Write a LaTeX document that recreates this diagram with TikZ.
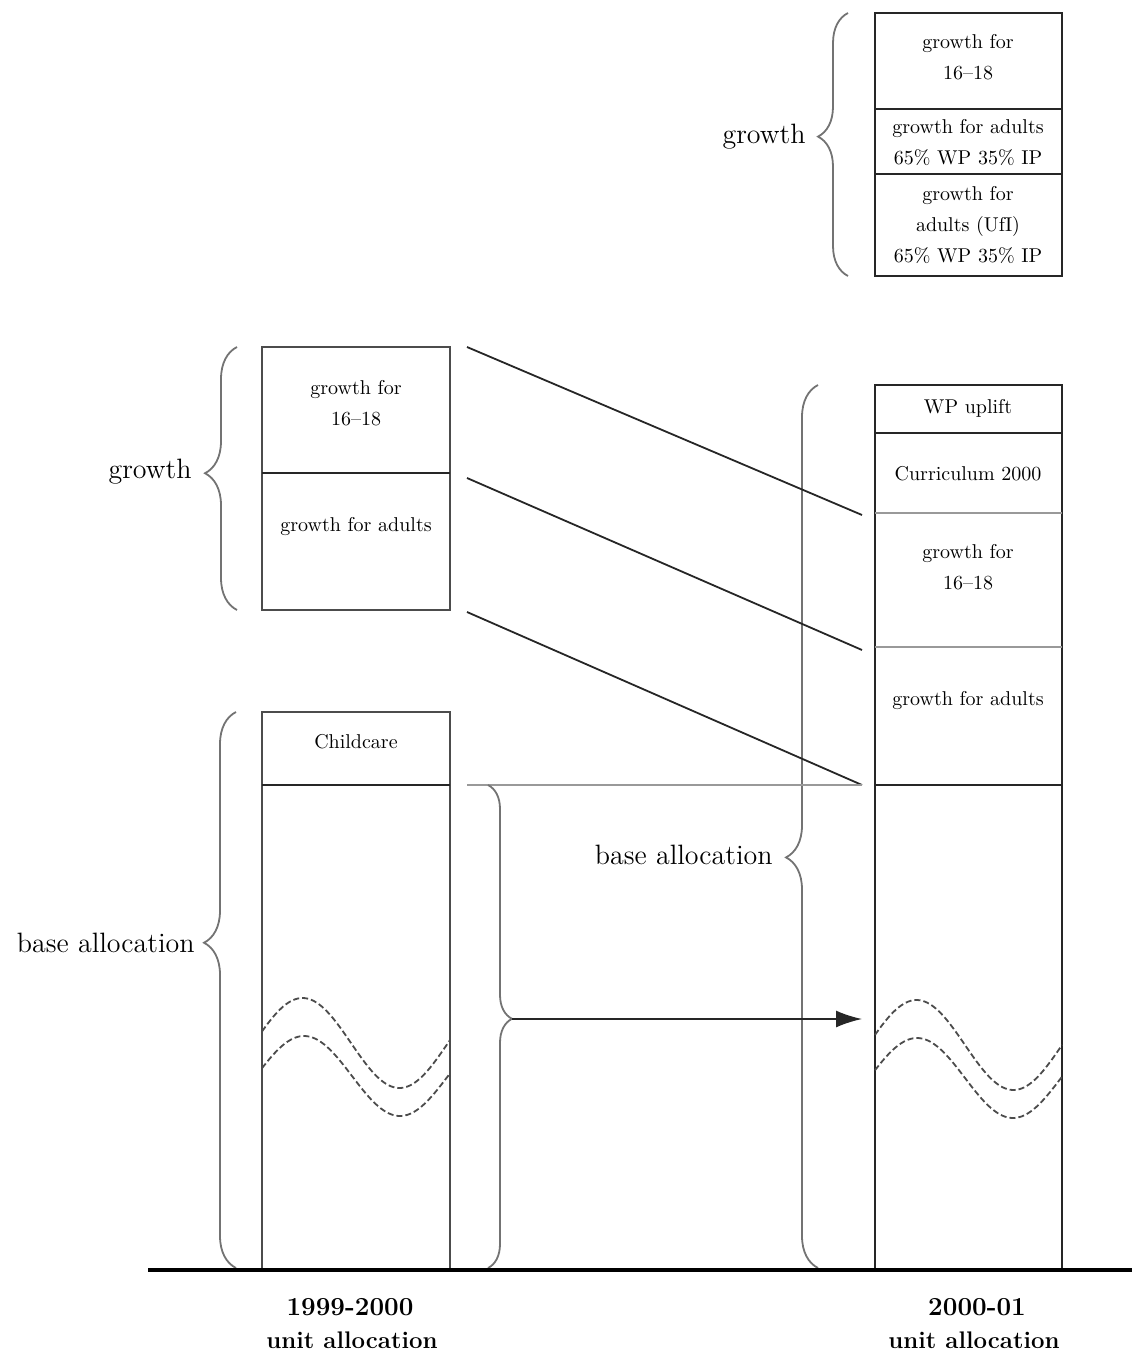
\documentclass[tikz,border=0pt]{standalone}
\usetikzlibrary{decorations.pathreplacing,arrows.meta}
\begin{document}
\begin{tikzpicture}[x=0.5pt,y=-0.5pt,
  boxline/.style={draw=black!85, line width=0.9pt},
  lboxline/.style={draw=black!70, line width=0.9pt},
  grayline/.style={draw=black!40, line width=1.1pt},
  conn/.style={draw=black!85, line width=0.9pt},
  wave/.style={draw=black!70, line width=0.9pt, dash pattern=on 3pt off 1.5pt},
  brc/.style={draw=black!55, line width=0.9pt, decorate, decoration={brace, amplitude=17pt}},
  small/.style={font=\fontsize{10}{15.5}\selectfont, align=center, inner sep=0pt},
  big/.style={font=\fontsize{14}{17}\selectfont, inner sep=0pt},
  yearlbl/.style={font=\fontsize{12}{15}\selectfont\bfseries, inner sep=0pt},
  yearnum/.style={font=\fontsize{13}{15}\selectfont\bfseries, inner sep=0pt}
]
\path[use as bounding box] (0,0) rectangle (1132,1353);

% ---------- top-right growth box ----------
\draw[boxline] (875,13) rectangle (1062,276);
\draw[boxline] (875,109) -- (1062,109);
\draw[boxline] (875,174) -- (1062,174);
\node[small] (t1) at (968,57) {growth for\\16--18};
\node[small] (t2) at (968,143) {growth for adults\\65\% WP 35\% IP};
\node[small] (t3) at (968,225) {growth for\\adults (UfI)\\65\% WP 35\% IP};
\draw[brc, decoration={amplitude=15pt, aspect=0.53}] (848,276) -- (848,13);
\node[big, anchor=east] (gtop) at (806,137) {growth};

% ---------- left growth box ----------
\draw[lboxline] (262,347) rectangle (450,610);
\draw[boxline] (262,473) -- (450,473);
\node[small] (l1) at (356,403) {growth for\\16--18};
\node[small] (l2) at (356,527) {growth for adults};
\draw[brc, decoration={amplitude=16pt, aspect=0.52}] (237,610) -- (237,347);
\node[big, anchor=east] (gleft) at (192,472) {growth};

% ---------- left base box ----------
\draw[lboxline] (262,1268) -- (262,712) -- (450,712) -- (450,1268);
\draw[boxline] (262,785) -- (450,785);
\node[small] (cc) at (356,742) {Childcare};
\draw[wave] plot[domain=262:450, samples=80] (\x, {1043-45*sin(1.8557*(\x-254))});
\draw[wave] plot[domain=262:450, samples=80] (\x, {1076-40*sin(1.875*(\x-256))});
\draw[brc, decoration={amplitude=16pt, aspect=0.585}] (236,1268) -- (236,712);
\node[big, anchor=east] (bl) at (195,943) {base allocation};

% ---------- right 2000-01 box ----------
\draw[boxline] (875,1268) -- (875,385) -- (1062,385) -- (1062,1268);
\draw[boxline] (875,433) -- (1062,433);
\draw[grayline] (875,513) -- (1062,513);
\draw[grayline] (875,647) -- (1062,647);
\draw[boxline] (875,785) -- (1062,785);
\node[small] (r1) at (968,408) {WP uplift};
\node[small] (r2) at (968,474) {Curriculum 2000};
\node[small] (r3) at (968,567) {growth for\\16--18};
\node[small] (r4) at (968,701) {growth for adults};
\draw[wave] plot[domain=875:1062, samples=80] (\x, {1045-45*sin(1.8557*(\x-868))});
\draw[wave] plot[domain=875:1062, samples=80] (\x, {1078-40*sin(1.875*(\x-869))});
\draw[brc, decoration={amplitude=16pt, aspect=0.465}] (818,1268) -- (818,385);
\node[big, anchor=east] (br) at (773,855) {base allocation};

% ---------- connectors ----------
\coordinate (a1) at (467,347);  \coordinate (b1) at (862,515);
\coordinate (a2) at (467,478);  \coordinate (b2) at (862,650);
\coordinate (a3) at (467,612);  \coordinate (b3) at (862,785);
\coordinate (h1) at (467,785);
\draw[conn] (a1) -- (b1);
\draw[conn] (a2) -- (b2);
\draw[conn] (a3) -- (b3);
\draw[grayline] (h1) -- (b3);

% right-pointing brace and arrow
\draw[brc, decoration={amplitude=12pt, aspect=0.484}] (488,785) -- (488,1268);
\coordinate (btip) at (512,1019);
\coordinate (atip) at (862,1019);
\draw[conn, -{Latex[length=13pt,width=8.5pt]}] (btip) -- (atip);

% ---------- axis ----------
\coordinate (ax0) at (148,1270);
\coordinate (ax1) at (1132,1270);
\draw[black, line width=1.8pt] (ax0) -- (ax1);

\node[yearnum] (y1a) at (350,1307) {1999-2000};
\node[yearlbl] (y1b) at (352,1340) {unit allocation};
\node[yearnum] (y2a) at (977,1307) {2000-01};
\node[yearlbl] (y2b) at (974,1340) {unit allocation};
\end{tikzpicture}
\end{document}
